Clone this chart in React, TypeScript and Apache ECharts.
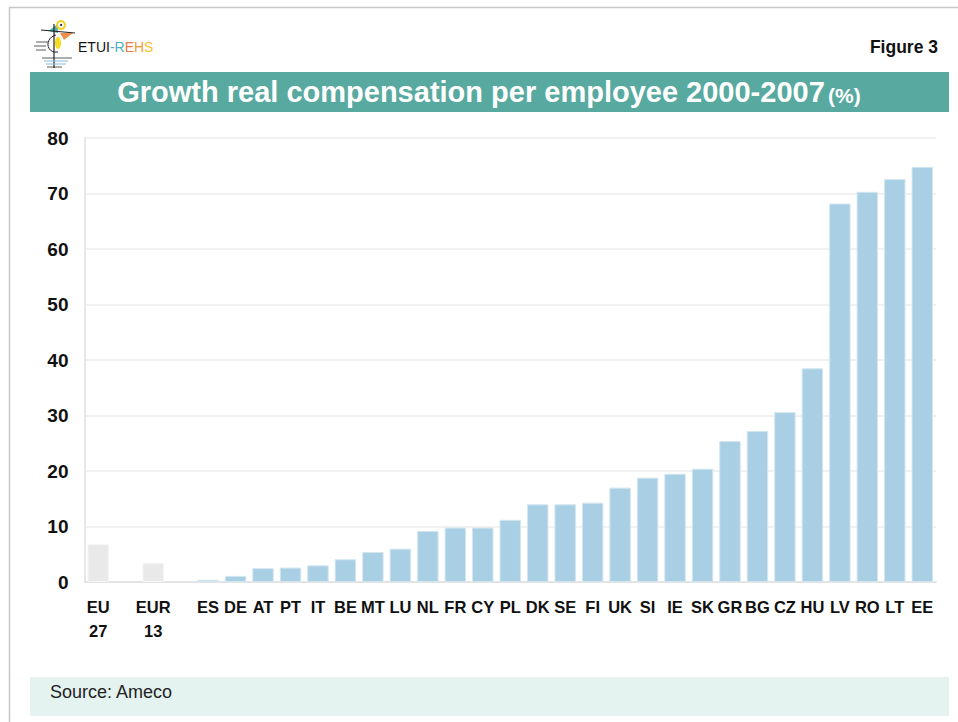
import React, { useEffect, useRef } from "react";
import * as echarts from "echarts";

const categories = [
  "EU\n27", "", "EUR\n13", "",
  "ES", "DE", "AT", "PT", "IT", "BE", "MT", "LU", "NL", "FR", "CY", "PL", "DK", "SE",
  "FI", "UK", "SI", "IE", "SK", "GR", "BG", "CZ", "HU", "LV", "RO", "LT", "EE",
];
const values: (number | null)[] = [
  6.8, null, 3.4, null,
  0.4, 1.1, 2.5, 2.6, 3.0, 4.1, 5.4, 6.0, 9.2, 9.8, 9.8, 11.2, 14.0, 14.0,
  14.3, 17.0, 18.8, 19.5, 20.4, 25.4, 27.2, 30.6, 38.5, 68.2, 70.3, 72.6, 74.8,
];
const aggregates = ["EU\n27", "EUR\n13"];
const yTicks = { min: 0, max: 80, interval: 10 };
const titleMain = "Growth real compensation per employee 2000-2007";
const titleUnit = "(%)";
const figureLabel = "Figure 3";
const sourceText = "Source: Ameco";

const FONT = "'Liberation Sans', Arial, sans-serif";

export default function App() {
  const ref = useRef<HTMLDivElement>(null);
  useEffect(() => {
    if (!ref.current) return;
    const chart = echarts.init(ref.current, null, { renderer: "svg" });
    const data = values.map((v, i) =>
      aggregates.includes(categories[i])
        ? { value: v, itemStyle: { color: "#e9e9e9", borderColor: "#f4f4f4" } }
        : { value: v }
    );
    chart.setOption({
      animation: false,
      backgroundColor: "#ffffff",
      textStyle: { fontFamily: FONT },
      grid: { left: 84.5, right: 22, top: 138, bottom: 140, containLabel: false },
      xAxis: {
        type: "category",
        data: categories,
        axisLine: { show: true, lineStyle: { color: "#e4e4e4", width: 2 } },
        axisTick: { show: false },
        axisLabel: {
          interval: 0,
          margin: 13,
          fontSize: 16.5,
          fontWeight: "bold",
          color: "#111",
          lineHeight: 24,
          fontFamily: FONT,
        },
      },
      yAxis: {
        type: "value",
        min: yTicks.min,
        max: yTicks.max,
        interval: yTicks.interval,
        axisLine: { show: true, lineStyle: { color: "#e8e8e8", width: 2 } },
        axisTick: { show: false },
        splitLine: { show: true, lineStyle: { color: "#ececec", width: 1.5 } },
        axisLabel: {
          margin: 16,
          fontSize: 19,
          fontWeight: "bold",
          color: "#111",
          fontFamily: FONT,
        },
      },
      series: [
        {
          type: "bar",
          data,
          barCategoryGap: "22%",
          itemStyle: { color: "#a8cfe3", borderColor: "#d2e6f0", borderWidth: 1 },
        },
      ],
      graphic: [
        // frame
        { type: "line", shape: { x1: 9, y1: 7.5, x2: 958, y2: 7.5 }, style: { stroke: "#c8c8c8", lineWidth: 1.5 } },
        { type: "line", shape: { x1: 9.5, y1: 7, x2: 9.5, y2: 722 }, style: { stroke: "#c8c8c8", lineWidth: 1.5 } },
        // title bar
        { type: "rect", shape: { x: 30, y: 72, width: 919, height: 40 }, style: { fill: "#58aaa1" } },
        {
          type: "text",
          x: 489,
          y: 92,
          style: {
            text: `{a|${titleMain}} {b|${titleUnit}}`,
            align: "center",
            verticalAlign: "middle",
            rich: {
              a: { fontSize: 29, fontWeight: "bold", fill: "#ffffff", fontFamily: FONT },
              b: { fontSize: 21, fontWeight: "bold", fill: "#ffffff", fontFamily: FONT, padding: [6, 0, 0, 0] },
            },
          },
        },
        // figure label
        {
          type: "text",
          x: 938,
          y: 47,
          style: { text: figureLabel, align: "right", verticalAlign: "middle", fontSize: 17.5, fontWeight: "bold", fill: "#111", fontFamily: FONT },
        },
        // source box
        { type: "rect", shape: { x: 30, y: 677, width: 919, height: 39 }, style: { fill: "#e4f3f0" } },
        {
          type: "text",
          x: 50,
          y: 692,
          style: { text: sourceText, align: "left", verticalAlign: "middle", fontSize: 18, fill: "#222", fontFamily: FONT },
        },
        // logo
        {
          type: "group",
          children: [
            { type: "polygon", shape: { points: [[48, 31], [58, 24], [58, 33]] }, style: { fill: "#5ab4b4" } },
            { type: "polygon", shape: { points: [[60, 33], [73, 33], [64, 40]] }, style: { fill: "#f0904a" } },
            { type: "circle", shape: { cx: 61, cy: 25, r: 4 }, style: { fill: "#fff", stroke: "#f0d020", lineWidth: 2 } },
            { type: "circle", shape: { cx: 61, cy: 25, r: 1 }, style: { fill: "#111" } },
            { type: "ellipse", shape: { cx: 58, cy: 43, rx: 3, ry: 6 }, style: { fill: "#f5dc20" } },
            { type: "line", shape: { x1: 41, y1: 30, x2: 75, y2: 33 }, style: { stroke: "#222", lineWidth: 1 } },
            { type: "line", shape: { x1: 54, y1: 24, x2: 54, y2: 68 }, style: { stroke: "#222", lineWidth: 1.2 } },
            { type: "bezierCurve", shape: { x1: 56, y1: 35, x2: 58, y2: 52, cpx1: 44, cpy1: 38, cpx2: 46, cpy2: 54 }, style: { stroke: "#222", fill: "none", lineWidth: 1 } },
            { type: "line", shape: { x1: 36, y1: 42, x2: 48, y2: 42 }, style: { stroke: "#333", lineWidth: 0.8 } },
            { type: "line", shape: { x1: 34, y1: 46, x2: 46, y2: 46 }, style: { stroke: "#333", lineWidth: 0.8 } },
            { type: "line", shape: { x1: 36, y1: 50, x2: 46, y2: 50 }, style: { stroke: "#333", lineWidth: 0.8 } },
            { type: "line", shape: { x1: 42, y1: 58, x2: 72, y2: 58 }, style: { stroke: "#333", lineWidth: 0.8 } },
            { type: "line", shape: { x1: 44, y1: 61, x2: 68, y2: 61 }, style: { stroke: "#8ab8d8", lineWidth: 1 } },
            { type: "line", shape: { x1: 46, y1: 64, x2: 66, y2: 64 }, style: { stroke: "#8ab8d8", lineWidth: 1 } },
            { type: "line", shape: { x1: 47, y1: 67, x2: 62, y2: 67 }, style: { stroke: "#333", lineWidth: 0.8 } },
          ],
        },
        {
          type: "text",
          x: 78,
          y: 46.5,
          style: {
            text: "{k|ETUI}{t|-R}{o|E}{h|H}{s|S}",
            align: "left",
            verticalAlign: "middle",
            rich: {
              k: { fontSize: 14, fill: "#111", fontFamily: FONT },
              t: { fontSize: 14, fill: "#4fb0c0", fontFamily: FONT },
              o: { fontSize: 14, fill: "#ee7a45", fontFamily: FONT },
              h: { fontSize: 14, fill: "#f39a3a", fontFamily: FONT },
              s: { fontSize: 14, fill: "#f5bf2a", fontFamily: FONT },
            },
          },
        },
      ],
    });
    return () => chart.dispose();
  }, []);
  return (
    <div
      ref={ref}
      style={{ position: "fixed", left: 0, top: 0, width: 958, height: 722, background: "#fff" }}
    />
  );
}
